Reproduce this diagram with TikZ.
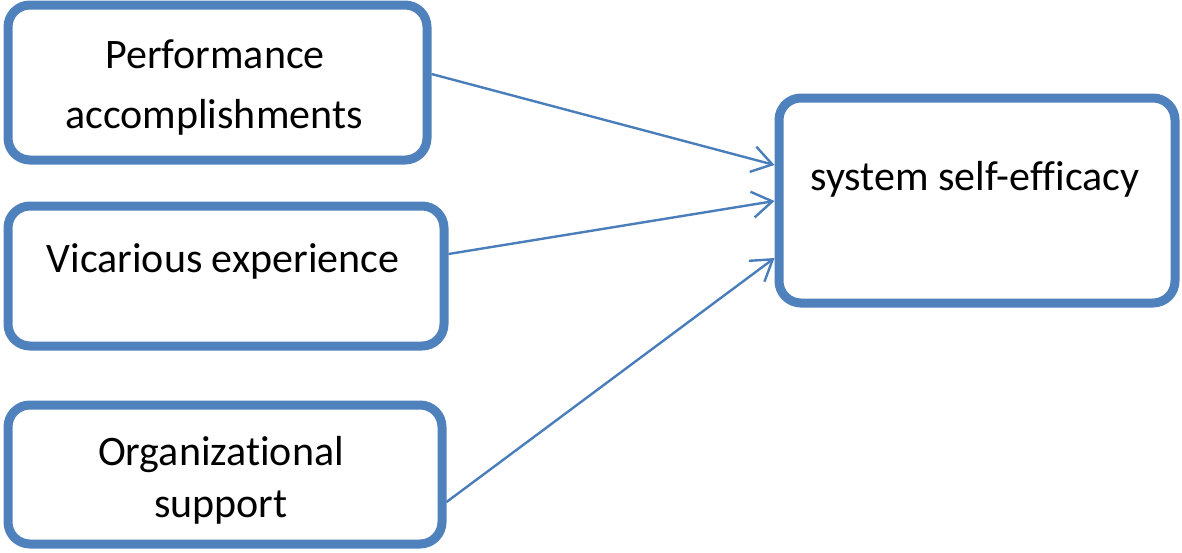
\documentclass[tikz,border=0pt]{standalone}
\usepackage{fontspec}
\setmainfont[Ligatures=NoCommon]{Carlito}
\usetikzlibrary{arrows.meta}
\definecolor{boxblue}{HTML}{4F81BD}
\definecolor{arrblue}{HTML}{4A7EBB}
\tikzset{
  box/.style={draw=boxblue, line width=4.5pt, rounded corners=11pt, fill=white, inner sep=0pt},
  lbl/.style={anchor=base, font=\fontsize{21pt}{25pt}\selectfont, inner sep=0pt},
  arr/.style={draw=arrblue, line width=1.2pt, -{Straight Barb[length=10pt,width=13pt,line width=1.2pt]}}
}
\begin{document}
\begin{tikzpicture}[x=0.5pt,y=-0.5pt]
\useasboundingbox (0,0) rectangle (1182,552);
\node[box, minimum width=209.5pt, minimum height=77.5pt] (b1) at (217.5,82.5) {};
\node[box, minimum width=218pt, minimum height=70pt] (b2) at (226,276) {};
\node[box, minimum width=217pt, minimum height=69.5pt] (b3) at (225,474.5) {};
\node[box, minimum width=198pt, minimum height=102.5pt] (b4) at (977,200.5) {};
\node[lbl] (t1a) at (215,68) {Performance};
\node[lbl] (t1b) at (214,128) {accomplishments};
\node[lbl] (t2) at (223,272) {Vicarious experience};
\node[lbl] (t3a) at (221,465) {Organizational};
\node[lbl] (t3b) at (221,517) {support};
\node[lbl] (t4) at (975,190) {system self-efficacy};
\draw[arr] ([yshift=4.25pt]b1.east) -- ([yshift=17.75pt]b4.west);
\draw[arr] ([yshift=11pt]b2.east) -- ([yshift=-0.25pt]b4.west);
\draw[arr] ([yshift=-13.75pt]b3.east) -- ([yshift=-28.75pt]b4.west);
\end{tikzpicture}
\end{document}
